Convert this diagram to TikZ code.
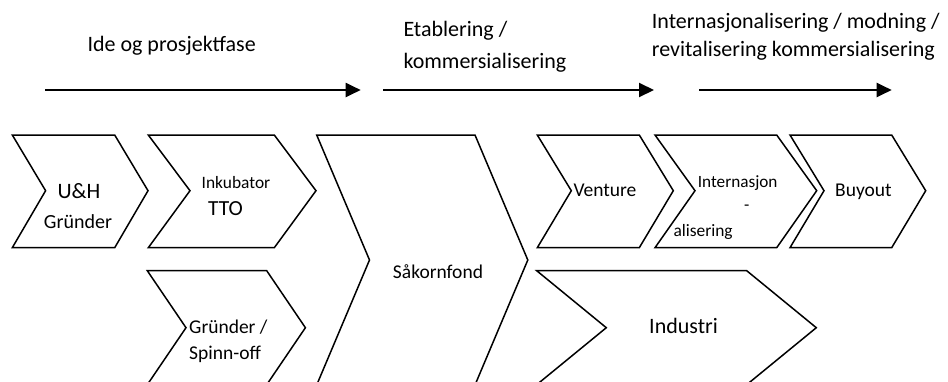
\documentclass[tikz,border=0pt]{standalone}
\usepackage{fontspec}
\setmainfont{Carlito}
\usetikzlibrary{arrows.meta}
\newcommand{\fsz}[1]{\fontsize{#1}{#1}\selectfont}
\newcommand{\drawchevron}[6]{% left, right, depth, ytop, ymid, ybot
  \draw[chev] (#1,#4) -- (#2,#4) -- ({#2+#3},#5) -- (#2,#6) -- (#1,#6) -- ({#1+#3},#5) -- cycle;}
\begin{document}
\begin{tikzpicture}[x=1pt,y=-1pt,
  chev/.style={draw=black,line width=1.5pt,line join=miter},
  phase/.style={-{Triangle[length=15pt,width=14pt]},line width=2pt},
  txt/.style={inner sep=0pt,anchor=base west,text=black},
  ctxt/.style={inner sep=0pt,anchor=base,text=black},
  big/.style={font=\fsz{22}},
  mid/.style={font=\fsz{19.5}},
  small/.style={font=\fsz{17.4}}]
\useasboundingbox (0,0) rectangle (948,381);
\clip (0,0) rectangle (948,381);

% phase labels
\node[txt,big] (p1) at (87.3,51.7) {Ide og prosjektfase};
\node[txt,big] (p2a) at (403.3,36) {Etablering /};
\node[txt,big] (p2b) at (403.3,68.3) {kommersialisering};
\node[txt,big] (p3a) at (651.7,28.3) {Internasjonalisering / modning /};
\node[txt,big] (p3b) at (651.7,56.7) {revitalisering kommersialisering};

% phase arrows
\coordinate (a1s) at (45,90);   \coordinate (a1e) at (360.7,90);
\coordinate (a2s) at (383.3,90); \coordinate (a2e) at (654,90);
\coordinate (a3s) at (699.3,90); \coordinate (a3e) at (891.7,90);
\draw[phase] (a1s) -- (a1e);
\draw[phase] (a2s) -- (a2e);
\draw[phase] (a3s) -- (a3e);

% chevrons
\drawchevron{12.3}{114.7}{33.3}{135}{190.7}{247.7}
\drawchevron{148.3}{274.3}{41.7}{135}{190.7}{247.7}
\drawchevron{147.3}{266.7}{38.7}{270.7}{327.7}{384.7}
\drawchevron{316.7}{475}{52.8}{135}{260}{385}
\drawchevron{537.3}{639.3}{34}{135}{190.7}{247.7}
\drawchevron{655}{776.7}{40}{135}{190.7}{247.7}
\drawchevron{790}{891.7}{34}{135}{190.7}{247.7}
\drawchevron{536.7}{746.7}{69.6}{270.7}{327.7}{384.7}

% chevron labels
\node[ctxt,big] (uh) at (79,198.3) {U\&H};
\node[ctxt,font=\fsz{20}] (gr1) at (78,228.3) {Gründer};
\node[ctxt,small] (ink) at (236,188) {Inkubator};
\node[ctxt,font=\fsz{21.5}] (tto) at (225.5,215) {TTO};
\node[txt,mid] (gr2) at (189,333.3) {Gründer /};
\node[txt,mid] (spo) at (189,359.3) {Spinn-off};
\node[ctxt,mid] (sak) at (438,278.3) {Såkornfond};
\node[txt,mid] (ven) at (573.3,196.7) {Venture};
\node[txt,font=\fsz{17.2}] (int1) at (697.7,187.3) {Internasjon};
\node[ctxt,font=\fsz{17.2}] (int2) at (746.7,210.8) {-};
\node[txt,small] (int3) at (673.3,236) {alisering};
\node[txt,mid] (buy) at (835,196.7) {Buyout};
\node[txt,big] (ind) at (649,333.3) {Industri};
\end{tikzpicture}
\end{document}
